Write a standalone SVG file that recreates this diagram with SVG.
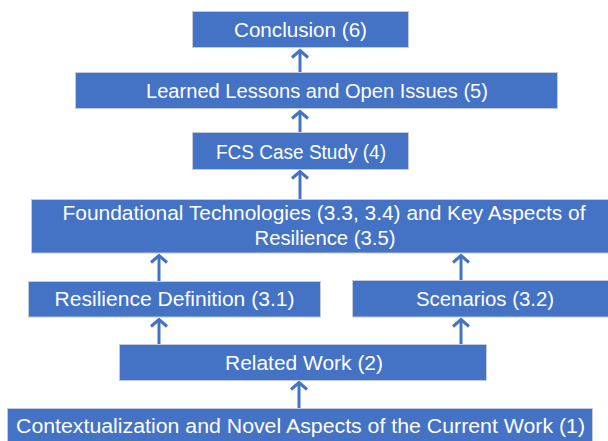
<svg xmlns="http://www.w3.org/2000/svg" width="608" height="441" viewBox="0 0 608 441">
<defs>
<style>
.box{fill:#4472C4;stroke:#C3CAD9;stroke-width:1}
.t{fill:#FFFFFF;font-family:"Liberation Sans",Arial,sans-serif;font-size:20px;text-anchor:middle}
.c{stroke:#4472C4;stroke-width:3;fill:none;marker-end:url(#ah)}
</style>
<marker id="ah" markerUnits="userSpaceOnUse" markerWidth="20" markerHeight="20" viewBox="-10 -10 20 20" refX="0" refY="0" orient="auto" overflow="visible">
<path d="M-7,-8 L0,0 L-7,8" fill="none" stroke="#4472C4" stroke-width="3" stroke-linejoin="miter"/>
</marker>
</defs>
<rect width="608" height="441" fill="#FFFFFF"/>
<g id="connectors">
<line class="c" x1="300" y1="72" x2="300" y2="50.5"/>
<line class="c" x1="300" y1="132" x2="300" y2="111.5"/>
<line class="c" x1="300" y1="199" x2="300" y2="171.5"/>
<line class="c" x1="159" y1="281" x2="159" y2="255.5"/>
<line class="c" x1="461" y1="280" x2="461" y2="255.5"/>
<line class="c" x1="159" y1="344" x2="159" y2="319.5"/>
<line class="c" x1="461" y1="344" x2="461" y2="319.5"/>
<line class="c" x1="299" y1="408" x2="299" y2="382.5"/>
</g>
<g id="n6">
<rect class="box" x="192.5" y="11.5" width="216" height="36"/>
<text class="t" x="300.5" y="37" textLength="133" lengthAdjust="spacingAndGlyphs">Conclusion (6)</text>
</g>
<g id="n5">
<rect class="box" x="75.5" y="72.5" width="482" height="36"/>
<text class="t" x="317" y="98" textLength="342" lengthAdjust="spacingAndGlyphs">Learned Lessons and Open Issues (5)</text>
</g>
<g id="n4">
<rect class="box" x="192.5" y="132.5" width="216" height="37"/>
<text class="t" x="301" y="158.5" textLength="170" lengthAdjust="spacingAndGlyphs">FCS Case Study (4)</text>
</g>
<g id="n3">
<rect class="box" x="31.5" y="199.5" width="586" height="53.5"/>
<text class="t" x="324" y="219.5" textLength="523" lengthAdjust="spacingAndGlyphs">Foundational Technologies (3.3, 3.4) and Key Aspects of</text>
<text class="t" x="325" y="245" textLength="141" lengthAdjust="spacingAndGlyphs">Resilience (3.5)</text>
</g>
<g id="n31">
<rect class="box" x="28.5" y="281.5" width="292" height="35.5"/>
<text class="t" x="174.5" y="306" textLength="240" lengthAdjust="spacingAndGlyphs">Resilience Definition (3.1)</text>
</g>
<g id="n32">
<rect class="box" x="352.5" y="280.5" width="266" height="36.5"/>
<text class="t" x="485" y="306" textLength="138" lengthAdjust="spacingAndGlyphs">Scenarios (3.2)</text>
</g>
<g id="n2">
<rect class="box" x="119.5" y="344.5" width="367" height="36"/>
<text class="t" x="304" y="370" textLength="158" lengthAdjust="spacingAndGlyphs">Related Work (2)</text>
</g>
<g id="n1">
<rect class="box" x="7.5" y="408.5" width="585" height="40"/>
<text class="t" x="300.5" y="433" textLength="569" lengthAdjust="spacingAndGlyphs">Contextualization and Novel Aspects of the Current Work (1)</text>
</g>
</svg>
